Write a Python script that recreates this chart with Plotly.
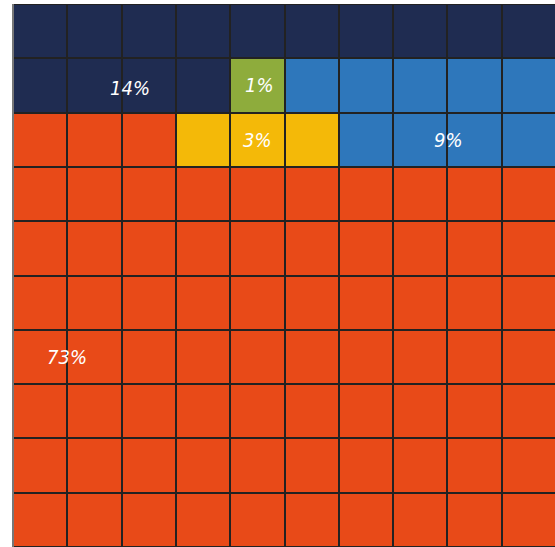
import plotly.graph_objects as go

# Data
labels = ["73%", "3%", "9%", "1%", "14%"]
values = [73, 3, 9, 1, 14]
colors = ["#E84A18", "#F4B908", "#2E77BB", "#8EAC3C", "#1F2C51"]
# label anchor positions (column, row) in grid units
label_cols = [0.5, 4.0, 7.52, 4.04, 1.65]
label_rows = [6.0, 2.0, 2.0, 1.0, 1.05]

NROWS, NCOLS = 10, 10

# fill grid bottom-up, snake order
cells = []
for i, v in enumerate(values):
    cells += [i] * v
grid = [[None] * NCOLS for _ in range(NROWS)]
idx = 0
for k in range(NROWS):
    r = NROWS - 1 - k
    cols = range(NCOLS) if k % 2 == 1 else range(NCOLS - 1, -1, -1)
    for c in cols:
        if idx < len(cells):
            grid[r][c] = cells[idx]
        idx += 1

n = len(colors)
colorscale = []
for i, col in enumerate(colors):
    colorscale.append([i / n, col])
    colorscale.append([(i + 1) / n, col])

fig = go.Figure()
fig.add_trace(go.Heatmap(
    z=grid,
    x=list(range(NCOLS)),
    y=list(range(NROWS)),
    zmin=-0.5, zmax=n - 0.5,
    colorscale=colorscale,
    showscale=False,
    xgap=2, ygap=2,
    hoverinfo="skip",
))

for t, cx, cy in zip(labels, label_cols, label_rows):
    fig.add_annotation(
        x=cx, y=cy, text=t, showarrow=False,
        font=dict(family="DejaVu Sans Condensed, Roboto, sans-serif",
                  size=20, color="white", style="italic"),
        xanchor="center", yanchor="middle",
    )

fig.update_xaxes(range=[-0.5, NCOLS - 0.5], visible=False, showgrid=False, zeroline=False)
fig.update_yaxes(range=[NROWS - 0.5, -0.5], visible=False, showgrid=False, zeroline=False)

fig.add_shape(type="line", xref="paper", yref="paper", x0=0, x1=0, y0=0, y1=1,
              line=dict(color="#777777", width=2))

fig.update_layout(
    width=556, height=547,
    margin=dict(l=13, r=0, t=4, b=0),
    plot_bgcolor="#222222",
    paper_bgcolor="white",
    showlegend=False,
)

fig.write_html("out.html", config={"displayModeBar": False})
with open("out.html", encoding="utf-8") as f:
    html = f.read()
html = html.replace("<body>", '<body style="margin:0;overflow:hidden">', 1)
with open("out.html", "w", encoding="utf-8") as f:
    f.write(html)
